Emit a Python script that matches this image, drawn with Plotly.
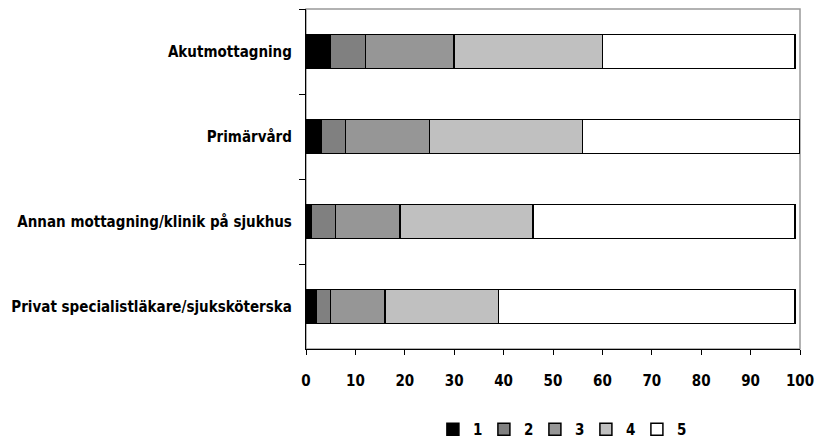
import plotly.graph_objects as go

categories = [
    "Akutmottagning",
    "Primärvård",
    "Annan mottagning/klinik på sjukhus",
    "Privat specialistläkare/sjuksköterska",
]
series_names = ["1", "2", "3", "4", "5"]
values_1 = [5, 3, 1, 2]
values_2 = [7, 5, 5, 3]
values_3 = [18, 17, 13, 11]
values_4 = [30, 31, 27, 23]
values_5 = [39, 44, 53, 60]
x_ticks = [0, 10, 20, 30, 40, 50, 60, 70, 80, 90, 100]

series_values = [values_1, values_2, values_3, values_4, values_5]
colors = ["#000000", "#808080", "#969696", "#c0c0c0", "#ffffff"]

FONT = "Liberation Sans Narrow, DejaVu Sans Condensed, Arial Narrow, sans-serif"
tfont = dict(family=FONT, size=15, color="black", weight="bold")

fig = go.Figure()
for name, vals, col in zip(series_names, series_values, colors):
    fig.add_trace(go.Bar(
        y=categories, x=vals, name=name, orientation="h",
        marker=dict(color=col, line=dict(color="#000000", width=1.5)),
    ))

fig.update_layout(
    barmode="stack",
    bargap=0.6,
    width=816, height=430,
    margin=dict(l=297.5, r=24, t=0.5, b=89),
    plot_bgcolor="white", paper_bgcolor="white",
    font=tfont,
    showlegend=True,
    legend=dict(
        orientation="h", x=0.515, xanchor="center",
        yref="container", y=0.02, yanchor="middle",
        font=tfont, traceorder="normal", itemwidth=30,
        entrywidthmode="pixels", entrywidth=6,
    ),
    shapes=[dict(
        type="rect", xref="x domain", yref="y domain", x0=0, x1=1, y0=0, y1=1,
        line=dict(color="#999999", width=1.5), layer="below",
    )],
)
fig.update_xaxes(
    range=[0, 100], tickvals=x_ticks, ticks="outside", ticklen=5,
    tickcolor="black", showgrid=False, zeroline=False, automargin=False,
    showline=True, linecolor="black", linewidth=1.2,
    ticklabelstandoff=13, tickfont=tfont,
)
fig.update_yaxes(
    categoryorder="array", categoryarray=categories, autorange="reversed",
    tickson="boundaries", ticks="outside", ticklen=6, tickcolor="black",
    showgrid=False, showline=True, linecolor="black", linewidth=1.2,
    automargin=False, ticklabelstandoff=10, tickfont=tfont,
)

fig.write_html("out.html")
